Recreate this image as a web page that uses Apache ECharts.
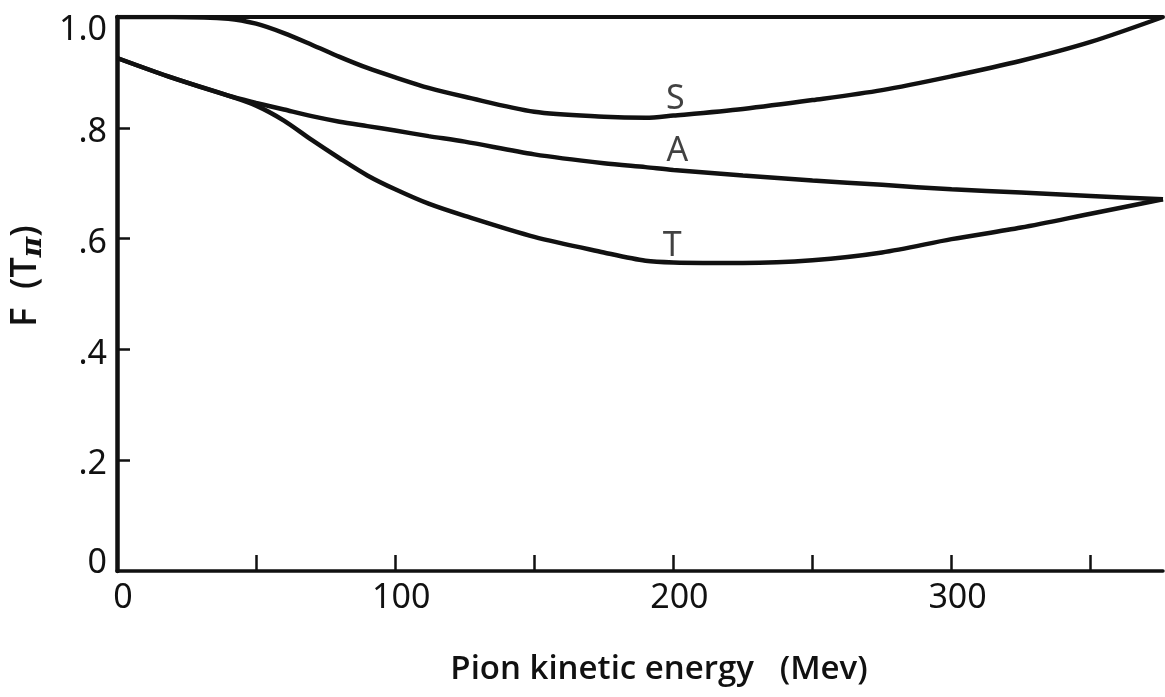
<!DOCTYPE html>
<html>
<head>
<meta charset="utf-8">
<script src="https://cdn.jsdelivr.net/npm/echarts@6/dist/echarts.min.js"></script>
<style>
  html, body { margin: 0; padding: 0; background: #fff; }
  #chart { width: 1165px; height: 697px; }
</style>
</head>
<body>
<div id="chart"></div>
<script>
// Pion kinetic energy (MeV) at which each curve is sampled
const energy = [0, 20, 40, 50, 60, 70, 80, 90, 100, 112, 125, 150, 175, 190, 200, 225, 250, 275, 300, 325, 350, 376];

// F(T_pi) for the three curves
const curveS = [1.000, 1.000, 0.997, 0.988, 0.971, 0.950, 0.928, 0.908, 0.891, 0.872, 0.856, 0.829, 0.820, 0.818, 0.822, 0.834, 0.850, 0.868, 0.893, 0.921, 0.955, 1.000];
const curveA = [0.926, 0.890, 0.858, 0.845, 0.833, 0.821, 0.811, 0.803, 0.795, 0.785, 0.775, 0.752, 0.736, 0.729, 0.724, 0.714, 0.705, 0.697, 0.689, 0.683, 0.677, 0.671];
const curveT = [0.926, 0.890, 0.858, 0.840, 0.813, 0.778, 0.745, 0.714, 0.689, 0.663, 0.641, 0.603, 0.575, 0.560, 0.557, 0.556, 0.561, 0.575, 0.599, 0.620, 0.645, 0.671];

// Curve names written beside each curve (energy, F)
const curveNames = ['S', 'A', 'T'];
const nameEnergy = [200.7, 201.4, 199.6];
const nameValue = [0.852, 0.758, 0.586];

// Axis ticks and labels
const xTicks = [50, 100, 150, 200, 250, 300, 350];
const xLabels = [0, 100, 200, 300];
const yTicks = [0.2, 0.4, 0.6, 0.8];
const yLabels = [0, 0.2, 0.4, 0.6, 0.8, 1.0];

const INK = '#111';
const NUM_FONT = 'Noto Sans';
const TITLE_FONT = 'Open Sans';

function pairs(vals) { return energy.map((e, i) => [e, vals[i]]); }

function yLabelText(v) {
  if (v === 0) return '{zero|0}';
  if (v === 1) return '{one|1.0}';
  return '{mid|.' + Math.round(v * 10) + '}';
}

const chart = echarts.init(document.getElementById('chart'), null, { renderer: 'canvas' });

const lineStyle = { color: INK, width: 4.5 };

chart.setOption({
  backgroundColor: '#fff',
  animation: false,
  grid: { left: 117, right: 2, top: 17, bottom: 126 },
  xAxis: [
    {
      type: 'value', min: 0, max: 376, position: 'bottom',
      splitLine: { show: false },
      axisLine: { show: true, lineStyle: { color: INK, width: 3.5 } },
      axisTick: { show: true, inside: true, length: 16, customValues: xTicks, lineStyle: { color: INK, width: 2.5 } },
      axisLabel: {
        customValues: xLabels, margin: 10, color: INK,
        fontFamily: NUM_FONT, fontSize: 34, padding: [0, 0, 0, 12]
      },
      name: 'Pion kinetic energy   (Mev)',
      nameLocation: 'middle', nameGap: 82,
      nameTextStyle: {
        fontFamily: TITLE_FONT, fontWeight: 600, fontSize: 33, color: INK,
        verticalAlign: 'top', padding: [0, 0, 0, 38]
      }
    },
    {
      type: 'value', min: 0, max: 376, position: 'top',
      splitLine: { show: false },
      axisLine: { show: true, lineStyle: { color: INK, width: 4 } },
      axisTick: { show: false }, axisLabel: { show: false }
    }
  ],
  yAxis: {
    type: 'value', min: 0, max: 1,
    splitLine: { show: false },
    axisLine: { show: true, lineStyle: { color: INK, width: 4.5 } },
    axisTick: { show: true, inside: true, length: 13, customValues: yTicks, lineStyle: { color: INK, width: 2.5 } },
    axisLabel: {
      customValues: yLabels, margin: 10, color: INK,
      formatter: yLabelText,
      rich: {
        zero: { fontFamily: NUM_FONT, fontSize: 34, color: INK, padding: [0, 0, 16, 0] },
        one: { fontFamily: NUM_FONT, fontSize: 34, color: INK, padding: [26, 0, 0, 0] },
        mid: { fontFamily: NUM_FONT, fontSize: 34, color: INK, padding: [9, 0, 0, 0] }
      }
    },
    name: '{a|F  (T}{s|π}{a|)}',
    nameLocation: 'middle', nameRotate: 90, nameGap: 66,
    nameTextStyle: {
      rich: {
        a: { fontFamily: TITLE_FONT, fontWeight: 600, fontSize: 36, color: INK, lineHeight: 44, verticalAlign: 'middle' },
        s: { fontFamily: 'DejaVu Serif', fontStyle: 'italic', fontWeight: 'bold', fontSize: 28, color: INK, lineHeight: 44, verticalAlign: 'bottom' }
      },
      padding: [0, 0, 0, 36]
    }
  },
  series: [
    { name: 'S', type: 'line', data: pairs(curveS), smooth: 0.3, symbol: 'none', lineStyle, z: 3 },
    { name: 'A', type: 'line', data: pairs(curveA), smooth: 0.3, symbol: 'none', lineStyle, z: 3 },
    { name: 'T', type: 'line', data: pairs(curveT), smooth: 0.3, symbol: 'none', lineStyle, z: 3 },
    {
      name: 'curve names', type: 'scatter', symbolSize: 0, silent: true,
      data: curveNames.map((n, i) => ({ value: [nameEnergy[i], nameValue[i]], name: n })),
      label: {
        show: true, position: 'inside', formatter: p => p.name,
        fontFamily: NUM_FONT, fontSize: 34, color: INK
      }
    }
  ]
});
</script>
</body>
</html>
